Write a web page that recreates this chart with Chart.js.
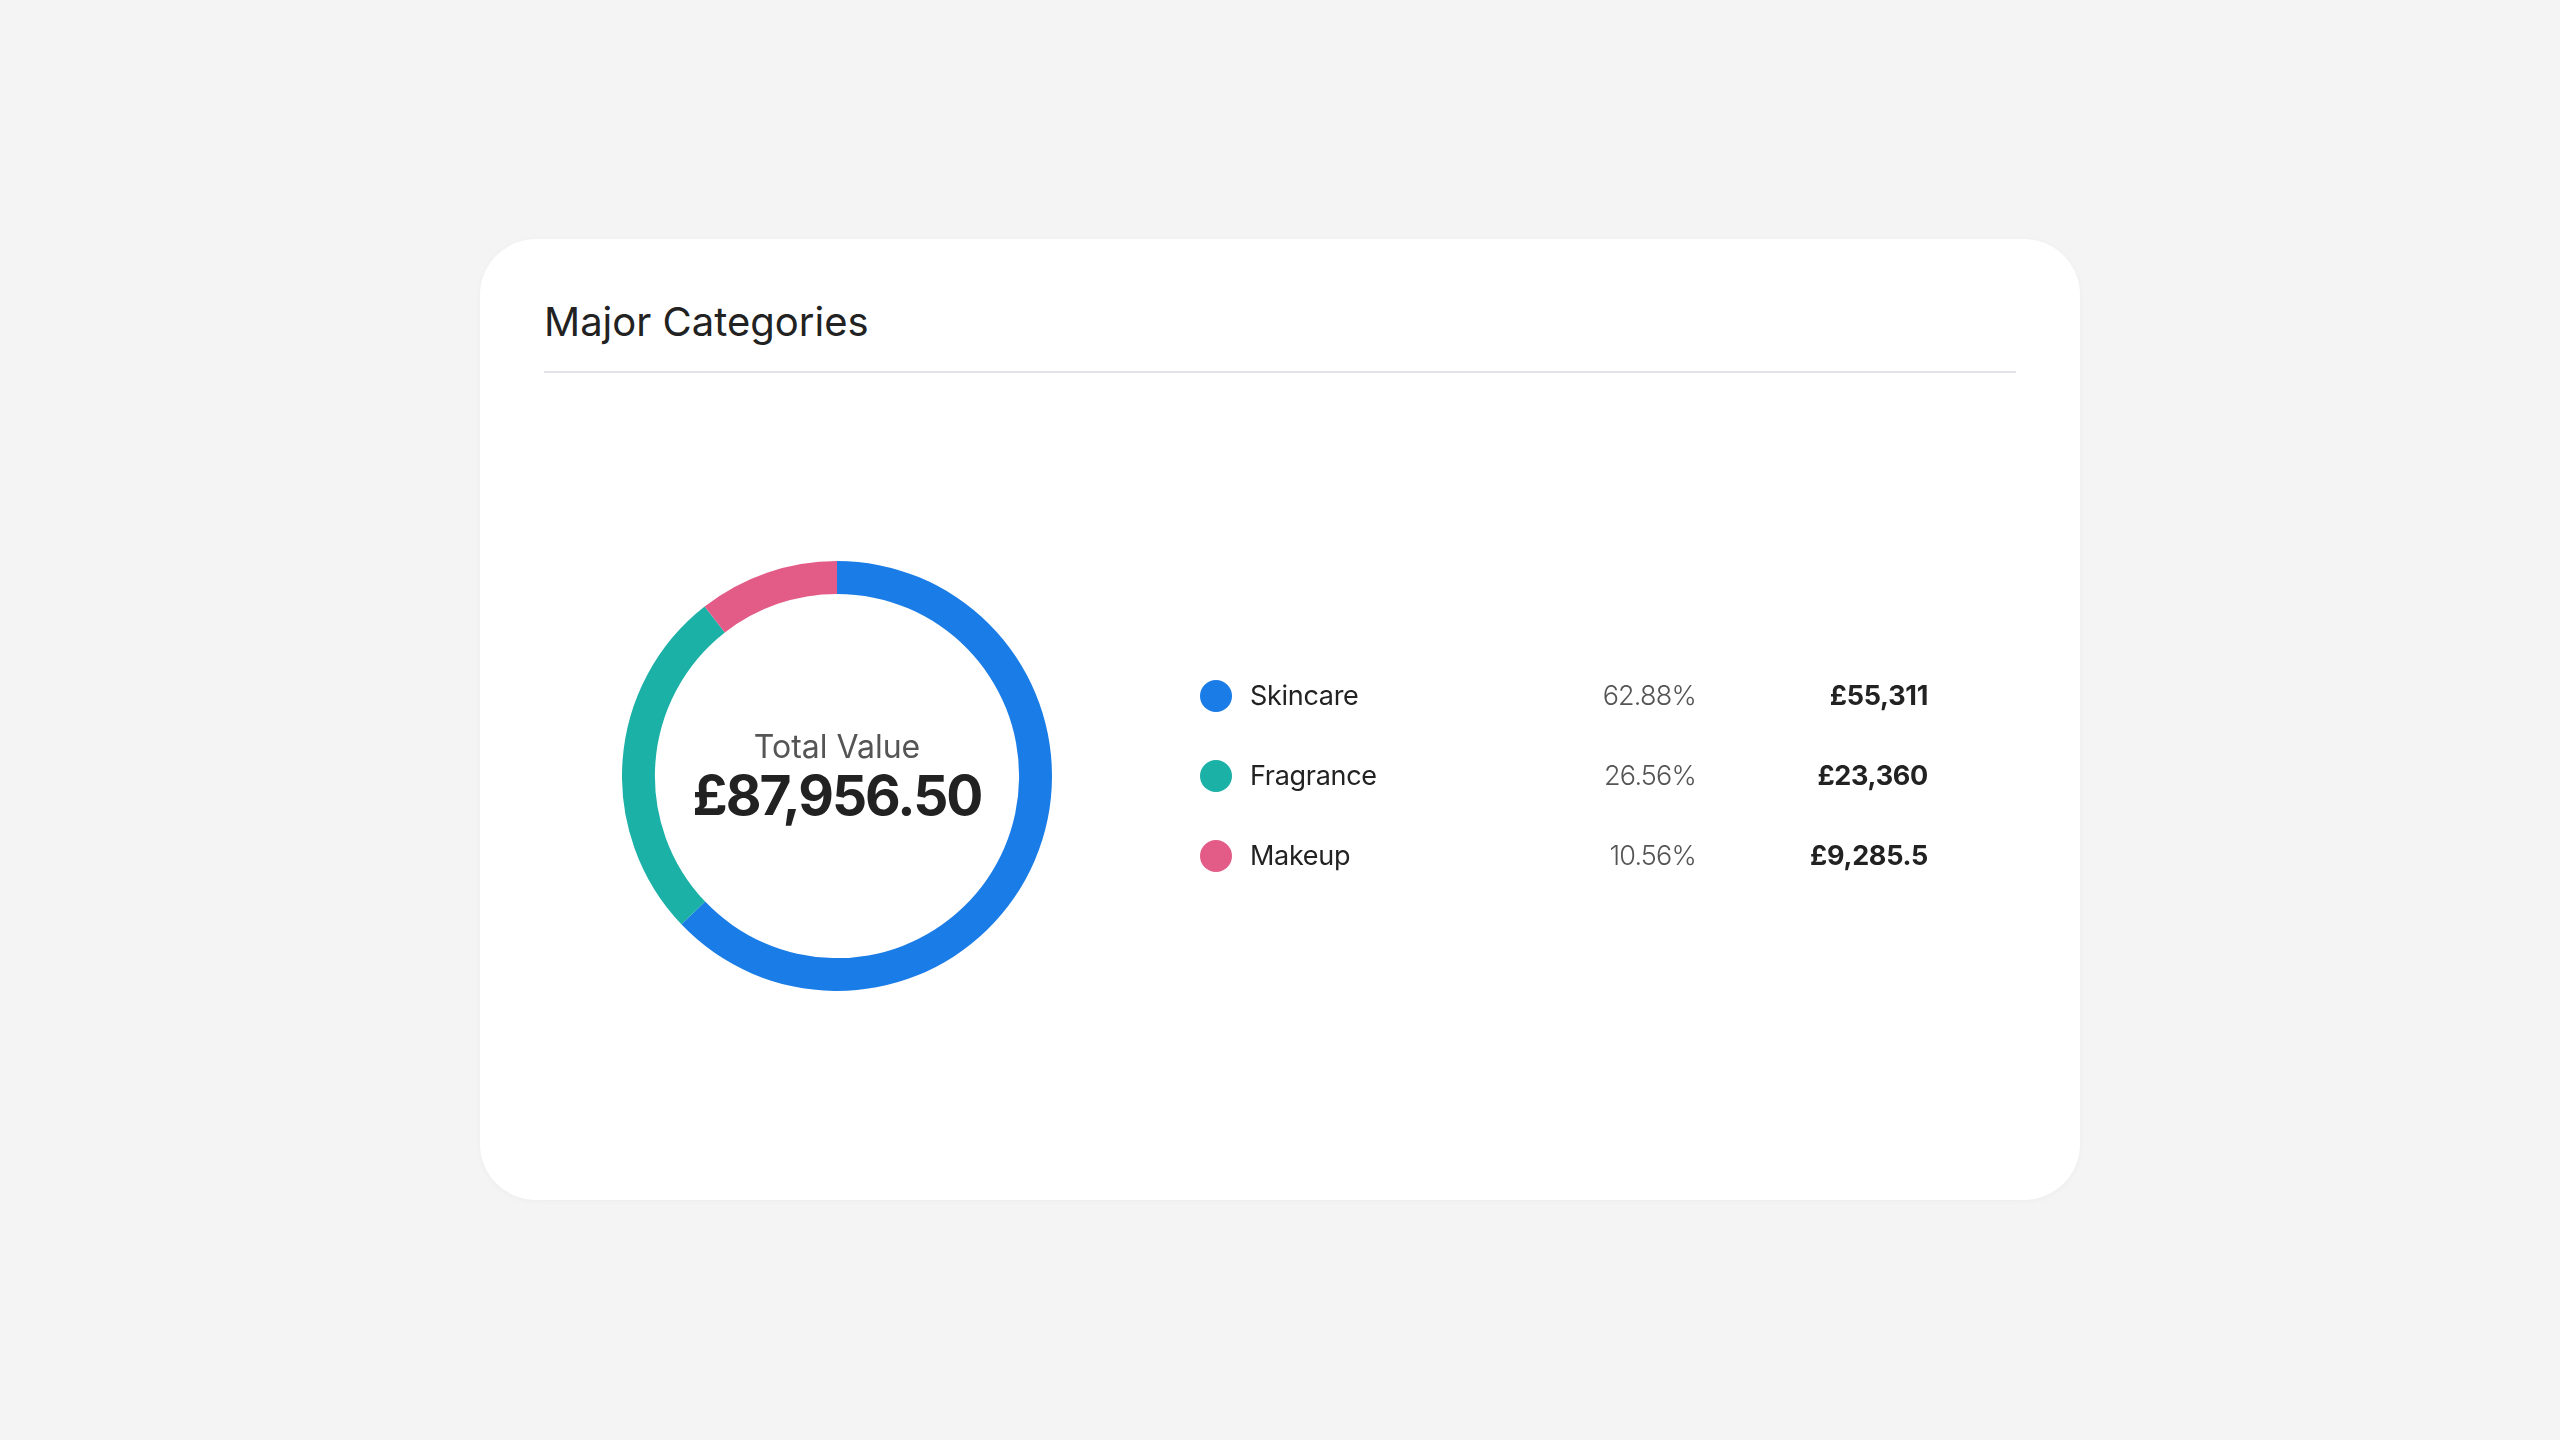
<!DOCTYPE html>
<html>
<head>
<meta charset="utf-8">
<script src="https://cdn.jsdelivr.net/npm/chart.js@4/dist/chart.umd.min.js"></script>
<style>
  html, body { margin: 0; padding: 0; }
  body { width: 2560px; height: 1440px; background: #f4f4f4; font-family: Inter, "Noto Sans", sans-serif; position: relative; overflow: hidden; }
  .card { position: absolute; left: 480px; top: 239px; width: 1600px; height: 961px; background: #fff; border-radius: 56px; box-shadow: 0 1px 6px rgba(0,0,0,0.035); }
  .title { position: absolute; left: 64px; top: 63px; font-size: 40px; line-height: 40px; color: #222; font-weight: 400; white-space: nowrap; }
  .divider { position: absolute; left: 64px; right: 64px; top: 132px; height: 2px; background: #e3e3e8; }
  .chartbox { position: absolute; left: 142px; top: 322px; width: 430px; height: 430px; }
  .center1 { position: absolute; left: 142px; width: 430px; text-align: center; top: 492px; font-size: 32px; line-height: 32px; color: #555; }
  .center2 { position: absolute; left: 142px; width: 430px; text-align: center; top: 528px; font-size: 55px; line-height: 56px; color: #222; font-weight: 700; letter-spacing: -2px; }
  .row { position: absolute; height: 40px; line-height: 40px; font-size: 27px; left: 0; width: 1600px; }
  .dot { position: absolute; left: 720px; top: 4px; width: 32px; height: 32px; border-radius: 50%; }
  .name { position: absolute; left: 770px; color: #222; white-space: nowrap; letter-spacing: -0.3px; }
  .pct { position: absolute; right: 384px; color: #555; white-space: nowrap; font-weight: 300; letter-spacing: -0.8px; }
  .val { position: absolute; right: 152px; color: #222; font-weight: 700; white-space: nowrap; letter-spacing: -0.3px; }
</style>
</head>
<body>
<div class="card" id="card">
  <div class="title">Major Categories</div>
  <div class="divider"></div>
  <div class="chartbox"><canvas id="c" width="430" height="430"></canvas></div>
  <div class="center1">Total Value</div>
  <div class="center2">£87,956.50</div>
</div>
<script>
const categories = ["Skincare", "Fragrance", "Makeup"];
const values = [55311, 23360, 9285.5];
const percentLabels = ["62.88%", "26.56%", "10.56%"];
const valueLabels = ["£55,311", "£23,360", "£9,285.5"];
const colors = ["#1a7ce6", "#1bb1a7", "#e35c88"];

new Chart(document.getElementById('c'), {
  type: 'doughnut',
  data: {
    labels: categories,
    datasets: [{
      data: values,
      backgroundColor: colors,
      borderWidth: 0,
      hoverOffset: 0,
      offset: 0
    }]
  },
  options: {
    responsive: false,
    animation: false,
    cutout: '84.7%',
    layout: { padding: 0 },
    plugins: { legend: { display: false }, tooltip: { enabled: false } },
    events: []
  }
});

const card = document.getElementById('card');
const rowCenters = [457, 537, 617];
categories.forEach((cat, i) => {
  const row = document.createElement('div');
  row.className = 'row';
  row.style.top = (rowCenters[i] - 20) + 'px';
  row.innerHTML = '<div class="dot" style="background:' + colors[i] + '"></div>' +
    '<div class="name">' + cat + '</div>' +
    '<div class="pct">' + percentLabels[i] + '</div>' +
    '<div class="val">' + valueLabels[i] + '</div>';
  card.appendChild(row);
});
</script>
</body>
</html>
